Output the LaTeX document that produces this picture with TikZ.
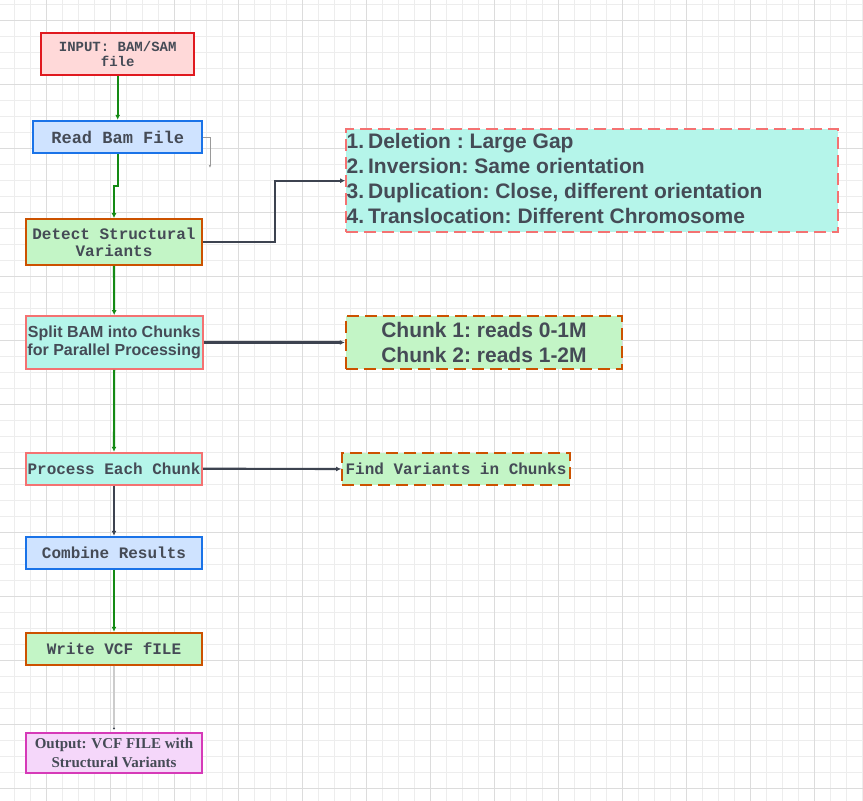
\documentclass[tikz,border=0pt]{standalone}
\usepackage{fontspec}
\setmainfont{Liberation Serif}
\setsansfont{Liberation Sans}
\setmonofont{Liberation Mono}
\usetikzlibrary{arrows.meta,calc}
\definecolor{gridminor}{HTML}{EDEDED}
\definecolor{gridmajor}{HTML}{DCDCDC}
\definecolor{txt}{HTML}{454B56}
\definecolor{cgreen}{HTML}{148A14}
\definecolor{cdark}{HTML}{3D4350}
\definecolor{cred}{HTML}{E0191F}
\definecolor{fred}{HTML}{FFD9D9}
\definecolor{cblue}{HTML}{1A73E8}
\definecolor{fblue}{HTML}{CFE3FF}
\definecolor{corange}{HTML}{CC5200}
\definecolor{fgreen}{HTML}{C3F5C6}
\definecolor{csalmon}{HTML}{F47272}
\definecolor{faqua}{HTML}{B5F5EA}
\definecolor{cmag}{HTML}{D63AB8}
\definecolor{fmag}{HTML}{F5D7FA}
\definecolor{clight}{HTML}{CCCCCC}
\definecolor{cgray}{HTML}{9A9A9A}
\tikzset{
  nb/.style={draw, line width=1.8pt, inner sep=0pt, align=center, text=txt},
  dashbox/.style={nb, dash pattern=on 12pt off 6pt},
  monofont/.style={font=\ttfamily\bfseries\fontsize{16}{17.4}\selectfont},
  gconn/.style={draw=cgreen, line width=2.1pt, -{Latex[length=5pt,width=5pt]}},
  dconn/.style={draw=cdark, line width=2.1pt, -{Latex[length=5pt,width=5pt]}},
}
\begin{document}
\begin{tikzpicture}[x=1pt,y=-1pt]
\useasboundingbox (0,0) rectangle (863,801);
\fill[white] (0,0) rectangle (863,801);
% grid
\foreach \i in {0,...,53} {\draw[gridminor, line width=0.9pt] ({14.7+16*\i},0) -- ({14.7+16*\i},801);}
\foreach \i in {0,...,49} {\draw[gridminor, line width=0.9pt] (0,{4.3+16*\i}) -- (863,{4.3+16*\i});}
\foreach \i in {0,...,12} {\draw[gridmajor, line width=1pt] ({46.7+64*\i},0) -- ({46.7+64*\i},801);}
\foreach \i in {0,...,12} {\draw[gridmajor, line width=1pt] (0,{20.3+64*\i}) -- (863,{20.3+64*\i});}

% main column
\node[nb, draw=cred, fill=fred, minimum width=152.7pt, minimum height=42pt,
      font=\ttfamily\bfseries\fontsize{14}{15}\selectfont] (input) at (117.7,53.7) {INPUT: BAM/SAM\\file};
\node[nb, draw=cblue, fill=fblue, minimum width=168.7pt, minimum height=32.6pt,
      font=\ttfamily\bfseries\fontsize{17}{18}\selectfont] (read) at (117.7,137) {Read Bam File};
\node[nb, draw=corange, fill=fgreen, minimum width=176.6pt, minimum height=46pt, monofont] (detect) at (114,242) {Detect Structural\\Variants};
\node[nb, draw=csalmon, fill=faqua, minimum width=177pt, minimum height=53pt,
      font=\sffamily\bfseries\fontsize{16}{18.7}\selectfont] (split) at (114.2,342.5) {Split BAM into Chunks\\for Parallel Processing};
\node[nb, draw=csalmon, fill=faqua, minimum width=176.6pt, minimum height=32pt, monofont] (process) at (114,468.7) {Process Each Chunk};
\node[nb, draw=cblue, fill=fblue, minimum width=176.6pt, minimum height=32pt, monofont] (combine) at (114,552.7) {Combine Results};
\node[nb, draw=corange, fill=fgreen, minimum width=176.6pt, minimum height=32pt, monofont] (write) at (114,648.7) {Write VCF fILE};
\node[nb, draw=cmag, fill=fmag, minimum width=176.6pt, minimum height=39.4pt,
      font=\rmfamily\bfseries\fontsize{15}{18.3}\selectfont] (output) at (114,753) {Output: VCF FILE with\\Structural Variants};

% side boxes
\node[dashbox, draw=csalmon, fill=faqua, minimum width=492.3pt, minimum height=103.3pt] (list) at (592.2,180.7) {};
\node[anchor=west, inner sep=0pt, text=txt, font=\sffamily\bfseries\fontsize{21}{25}\selectfont] (listtext) at ($(list.west)+(1.3,0)$)
  {\frenchspacing\begin{tabular}{@{}l@{\hspace{4pt}}l@{}}
   1. & Deletion : Large Gap\\
   2. & Inversion: Same orientation\\
   3. & Duplication: Close, different orientation\\
   4. & Translocation: Different Chromosome
   \end{tabular}};
\node[dashbox, draw=corange, fill=fgreen, minimum width=276.6pt, minimum height=53.6pt,
      font=\sffamily\bfseries\fontsize{21}{24.7}\selectfont] (chunk) at (484,342.5) {\frenchspacing Chunk 1: reads 0-1M\\\frenchspacing Chunk 2: reads 1-2M};
\node[dashbox, draw=corange, fill=fgreen, minimum width=228pt, minimum height=32pt, monofont] (find) at (456,469) {Find Variants in Chunks};

% connectors
\draw[gconn] (input.south) -- (read.north);
\draw[gconn] (read.south) -- ++(0,32) -| (detect.north);
\draw[gconn] (detect.south) -- (split.north);
\draw[gconn] (split.south) -- (process.north);
\draw[dconn] (process.south) -- (combine.north);
\draw[gconn] (combine.south) -- (write.north);
\coordinate (outtip) at ($(output.north)+(0,-4)$);
\draw[draw=clight, line width=1.6pt] (write.south) -- (outtip);
\fill[cdark] (outtip) circle (1.1pt);
\coordinate (readend) at ($(read.east)+(7,31)$);
\draw[draw=cgray, line width=0.8pt, -{Latex[length=3pt,width=2.5pt]}] (read.east) -- ++(7,0) -- (readend);
\draw[dconn] (detect.east) -- ++(72,0) |- (list.west);
\draw[dconn] (split.east) -- (chunk.west);
\draw[dconn] (process.east) -- (find.west);
\end{tikzpicture}
\end{document}
